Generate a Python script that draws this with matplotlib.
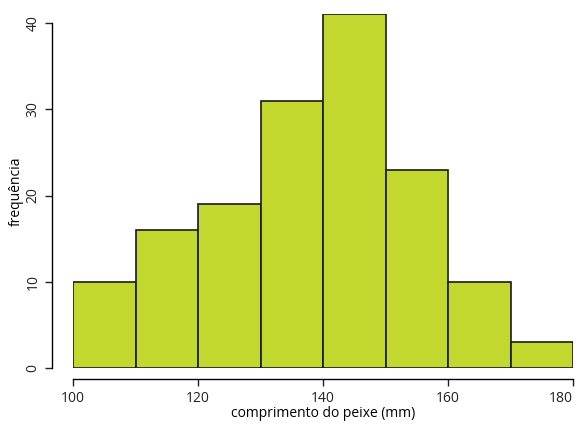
import numpy as np
import matplotlib

matplotlib.use("Agg")
import matplotlib.pyplot as plt  # noqa: E402

plt.rcParams["font.family"] = ["Open Sans", "DejaVu Sans"]

# class edges (mm) and counts per class
bin_edges = [100, 110, 120, 130, 140, 150, 160, 170, 180]
counts = [10, 16, 19, 31, 41, 23, 10, 3]
x_ticks = [100, 120, 140, 160, 180]
y_ticks = [0, 10, 20, 30, 40]

W, H, DPI = 582, 430, 100
fig = plt.figure(figsize=(W / DPI, H / DPI), dpi=DPI)
ax = fig.add_axes([73 / W, (H - 368) / H, 500 / W, 353.6 / H])

edges = np.array(bin_edges)
ax.bar(edges[:-1], counts, width=np.diff(edges), align="edge",
       color="#c3d82f", edgecolor="#1a1a1a", linewidth=1.2)

ax.set_xlim(100, 180)
ax.set_ylim(0, 41)

for side in ("top", "right"):
    ax.spines[side].set_visible(False)
ax.spines["left"].set_position(("outward", 15))
ax.spines["bottom"].set_position(("outward", 8))
ax.spines["left"].set_bounds(0, 40)
ax.spines["bottom"].set_bounds(100, 180)
for side in ("left", "bottom"):
    ax.spines[side].set_linewidth(1.0)

ax.set_xticks(x_ticks)
ax.set_yticks(y_ticks)
ax.set_yticklabels([str(v) for v in y_ticks], rotation=90, va="center")
ax.tick_params(length=5, width=1.0, labelsize=10, colors="#222222")
# keep the rightmost tick label inside the canvas
ax.get_xticklabels()[-1].set_horizontalalignment("right")
ax.get_xticklabels()[-1].set_x(180.9)

ax.set_xlabel("comprimento do peixe (mm)", fontsize=10, labelpad=0)
ax.set_ylabel("frequência", fontsize=10, labelpad=1)

fig.savefig("out.png", dpi=DPI)
